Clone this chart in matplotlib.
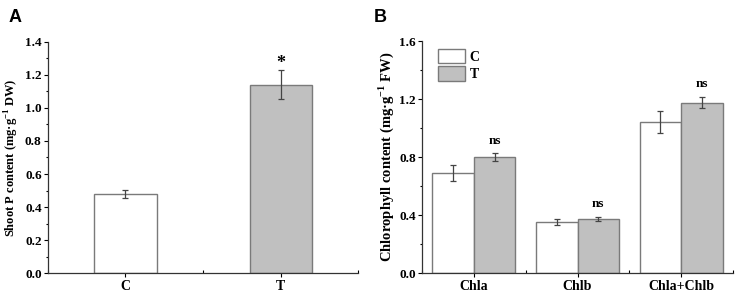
import matplotlib
matplotlib.use('Agg')
import matplotlib.pyplot as plt
import numpy as np
from matplotlib.ticker import MultipleLocator, FixedLocator, FormatStrFormatter

# panel A: shoot P content
groups_a = ['C', 'T']
p_mean = [0.48, 1.14]
p_err = [0.025, 0.088]
p_sig = ['', '*']

# panel B: chlorophyll content
pigments = ['Chla', 'Chlb', 'Chla+Chlb']
chl_c = [0.69, 0.35, 1.04]
chl_c_err = [0.055, 0.02, 0.075]
chl_t = [0.80, 0.375, 1.175]
chl_t_err = [0.025, 0.015, 0.04]
chl_sig = ['ns', 'ns', 'ns']

plt.rcParams['font.family'] = ['Liberation Serif', 'DejaVu Serif']
plt.rcParams['font.weight'] = 'bold'
plt.rcParams['axes.labelweight'] = 'bold'

edge = '#7a7a7a'
grey = '#c0c0c0'
errc = '#444444'

fig = plt.figure(figsize=(7.37, 2.93), dpi=100)
axA = fig.add_axes([0.065, 0.068, 0.421, 0.789])
axB = fig.add_axes([0.5726, 0.068, 0.422, 0.792])


def style(ax, n):
    for s in ['top', 'right']:
        ax.spines[s].set_visible(False)
    for s in ['left', 'bottom']:
        ax.spines[s].set_color('#333333')
        ax.spines[s].set_linewidth(0.9)
    ax.set_xlim(-0.5, n - 0.5)
    ax.xaxis.set_minor_locator(FixedLocator(np.arange(n + 1) - 0.5))
    ax.tick_params(axis='x', which='major', direction='out', length=3, width=0.8, labelsize=10, pad=2)
    ax.tick_params(axis='x', which='minor', direction='in', length=2.5, width=0.8)
    ax.tick_params(axis='y', which='major', direction='out', length=3, width=0.8, labelsize=9.5, pad=1.5)
    ax.tick_params(axis='y', which='minor', direction='out', length=1.8, width=0.8)
    for lab in ax.get_xticklabels() + ax.get_yticklabels():
        lab.set_fontweight('bold')


# A
xa = np.arange(len(groups_a))
axA.bar(xa, p_mean, width=0.4, color=['white', grey], edgecolor=edge, linewidth=1.0, zorder=2)
axA.errorbar(xa, p_mean, yerr=p_err, fmt='none', ecolor=errc, elinewidth=0.9, capsize=2.2, capthick=0.9, zorder=3)
for x, m, e, s in zip(xa, p_mean, p_err, p_sig):
    if s:
        axA.text(x, m + e - 0.01, s, ha='center', va='bottom', fontsize=13, fontweight='bold')
axA.set_ylim(0, 1.4)
axA.yaxis.set_major_locator(MultipleLocator(0.2))
axA.yaxis.set_minor_locator(MultipleLocator(0.1))
axA.set_xticks(xa)
axA.set_xticklabels(groups_a)
axA.yaxis.set_major_formatter(FormatStrFormatter('%.1f'))
style(axA, len(groups_a))
axA.set_ylabel('Shoot P content (mg\u00b7g$^{\\mathregular{-1}}$ DW)', fontsize=9, fontweight='bold', labelpad=3)

# B
xb = np.arange(len(pigments))
w = 0.4
axB.bar(xb - w / 2, chl_c, width=w, color='white', edgecolor=edge, linewidth=1.0, label='C', zorder=2)
axB.bar(xb + w / 2, chl_t, width=w, color=grey, edgecolor=edge, linewidth=1.0, label='T', zorder=2)
axB.errorbar(xb - w / 2, chl_c, yerr=chl_c_err, fmt='none', ecolor=errc, elinewidth=0.9, capsize=2.2, capthick=0.9, zorder=3)
axB.errorbar(xb + w / 2, chl_t, yerr=chl_t_err, fmt='none', ecolor=errc, elinewidth=0.9, capsize=2.2, capthick=0.9, zorder=3)
for x, m, e, s in zip(xb + w / 2, chl_t, chl_t_err, chl_sig):
    axB.text(x, m + e + 0.045, s, ha='center', va='bottom', fontsize=9.5, fontweight='bold')
axB.set_ylim(0, 1.6)
axB.yaxis.set_major_locator(MultipleLocator(0.4))
axB.yaxis.set_minor_locator(MultipleLocator(0.2))
axB.set_xticks(xb)
axB.set_xticklabels(pigments)
axB.yaxis.set_major_formatter(FormatStrFormatter('%.1f'))
style(axB, len(pigments))
axB.set_ylabel('Chlorophyll content (mg\u00b7g$^{\\mathregular{-1}}$ FW)', fontsize=10.5, fontweight='bold', labelpad=2)
axB.legend(loc='upper left', bbox_to_anchor=(0.01, 1.02), frameon=False,
           handlelength=2.0, handleheight=1.2, handletextpad=0.3, labelspacing=0.2,
           prop={'weight': 'bold', 'size': 10})

fig.text(0.011, 0.97, 'A', fontsize=13, fontweight='bold', family=['Liberation Sans', 'DejaVu Sans'], va='top')
fig.text(0.507, 0.97, 'B', fontsize=13, fontweight='bold', family=['Liberation Sans', 'DejaVu Sans'], va='top')

fig.savefig('out.png', dpi=100)
